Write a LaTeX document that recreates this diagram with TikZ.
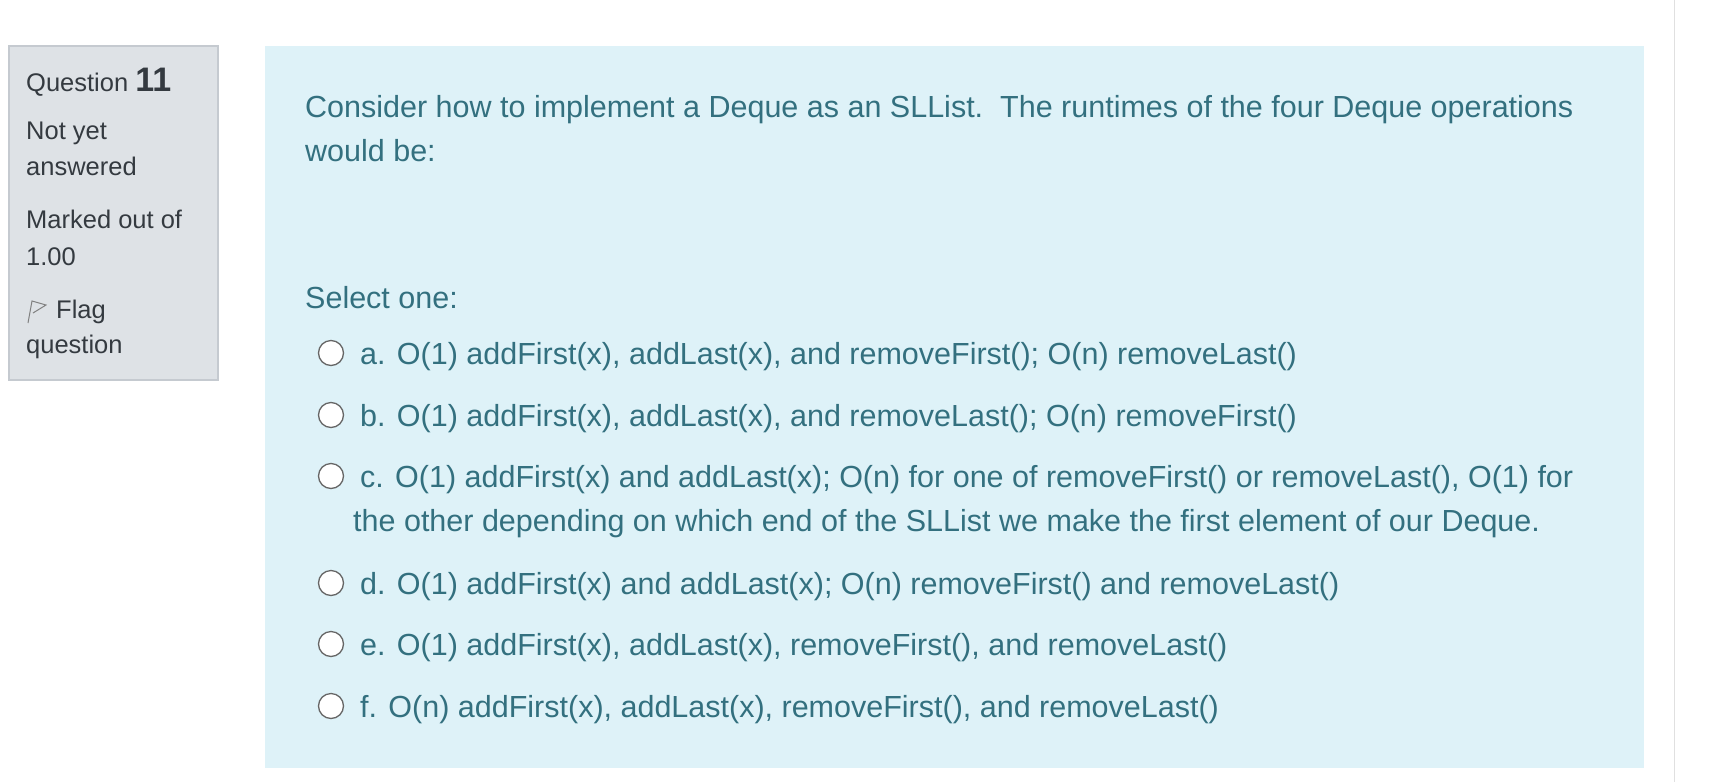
\documentclass[tikz,border=0pt]{standalone}
\usepackage{fontspec}
\setmainfont{Liberation Sans}
\definecolor{qtxt}{HTML}{33707F}
\definecolor{qbg}{HTML}{DEF2F8}
\definecolor{ibg}{HTML}{DEE2E6}
\definecolor{ibd}{HTML}{C5CAD0}
\definecolor{itxt}{HTML}{343A40}
\begin{document}
\begin{tikzpicture}[x=1pt,y=-1pt,
  info/.style={anchor=base west,inner sep=0pt,text=itxt,font=\fontsize{25.5}{30}\selectfont},
  qt/.style={anchor=base west,inner sep=0pt,text=qtxt,font=\fontsize{30.5}{36}\selectfont},
  radio/.style={circle,draw=black!60,line width=1.3pt,fill=white,minimum size=25pt,inner sep=0pt}]
\fill[white] (0,0) rectangle (1710,782);
\useasboundingbox (0,0) rectangle (1710,782);
\draw[ibd,fill=ibg,line width=1.2pt] (9,46) rectangle (218,380);
\fill[qbg] (265,46) rectangle (1644,768);
\draw[black!12,line width=1pt] (1674,0) -- (1674,782);
\node[info] (q) at (26,91) {Question \textbf{\fontsize{34}{38}\selectfont 11}};
\node[info] (s1) at (26,139) {Not yet};
\node[info] (s2) at (26,175) {answered};
\node[info] (m1) at (26,228) {Marked out of};
\node[info] (m2) at (26,265) {1.00};
\draw[black!50,line width=1pt] (28,323) -- (32,301) -- (46,305) -- (33,313);
\node[info] (f1) at (56,318) {Flag};
\node[info] (f2) at (26,353) {question};
\node[qt] (t1) at (305,117) {Consider how to implement a Deque as an SLList.\ \ The runtimes of the four Deque operations};
\node[qt] (t2) at (305,161) {would be:};
\node[qt] (sel) at (305,308) {Select one:};
\foreach \n/\y/\t in {
 a/353/{a. O(1) addFirst(x), addLast(x), and removeFirst(); O(n) removeLast()},
 b/415/{b. O(1) addFirst(x), addLast(x), and removeLast(); O(n) removeFirst()},
 c/476/{c. O(1) addFirst(x) and addLast(x); O(n) for one of removeFirst() or removeLast(), O(1) for},
 d/583/{d. O(1) addFirst(x) and addLast(x); O(n) removeFirst() and removeLast()},
 e/644/{e. O(1) addFirst(x), addLast(x), removeFirst(), and removeLast()},
 f/706/{f. O(n) addFirst(x), addLast(x), removeFirst(), and removeLast()}}{
  \node[radio] (r\n) at (331,\y) {};
  \node[qt] (o\n) at (360,\y+11) {\t};
}
\node[qt] (oc2) at (353,531) {the other depending on which end of the SLList we make the first element of our Deque.};
\end{tikzpicture}
\end{document}
